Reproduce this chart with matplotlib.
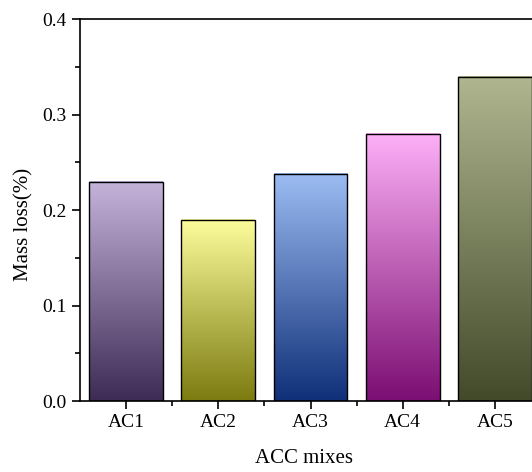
import numpy as np
import matplotlib
matplotlib.use("Agg")
import matplotlib.pyplot as plt
from matplotlib.colors import LinearSegmentedColormap
from matplotlib.ticker import MultipleLocator, FixedLocator

# data
mixes = ["AC1", "AC2", "AC3", "AC4", "AC5"]
mass_loss = [0.23, 0.19, 0.238, 0.28, 0.34]

# gradient colours: (top, bottom)
top_colors = ["#c5b3da", "#fdfd9c", "#9cbcf3", "#fdb0f7", "#b0b68f"]
bottom_colors = ["#3d2b55", "#7b7b10", "#0f2f78", "#7b0e72", "#424a2a"]

plt.rcParams["font.family"] = ["Liberation Serif", "DejaVu Serif"]

fig = plt.figure(figsize=(5.32, 4.72), dpi=100)
ax = fig.add_axes([80 / 532, 71 / 472, 461 / 532, 381.7 / 472])

width = 0.8
grad = np.linspace(0, 1, 256).reshape(-1, 1)
for i, (name, val) in enumerate(zip(mixes, mass_loss)):
    x = i + 1
    cmap = LinearSegmentedColormap.from_list(name, [bottom_colors[i], top_colors[i]])
    ax.imshow(grad, cmap=cmap, origin="lower", aspect="auto",
              extent=(x - width / 2, x + width / 2, 0, val), zorder=2)
    ax.bar(x, val, width=width, facecolor="none", edgecolor="black",
           linewidth=1.0, zorder=3)

ax.set_xlim(0.5, 5.5)
ax.set_ylim(0, 0.4)
ax.set_xticks(range(1, len(mixes) + 1))
ax.set_xticklabels(mixes)
ax.xaxis.set_minor_locator(FixedLocator([1.5, 2.5, 3.5, 4.5]))
ax.yaxis.set_major_locator(MultipleLocator(0.1))
ax.yaxis.set_minor_locator(MultipleLocator(0.05))
ax.tick_params(which="both", direction="out", width=1.2, labelsize=14,
               top=False, right=False)
ax.tick_params(which="major", length=6)
ax.tick_params(which="minor", length=3.5)
for sp in ax.spines.values():
    sp.set_linewidth(1.2)

ax.set_xlabel("ACC mixes", fontsize=15)
ax.set_ylabel("Mass loss(%)", fontsize=15)
ax.xaxis.set_label_coords(0.486, -0.125)
ax.yaxis.set_label_coords(-0.1, 0.463)

fig.savefig("out.png", dpi=100)
